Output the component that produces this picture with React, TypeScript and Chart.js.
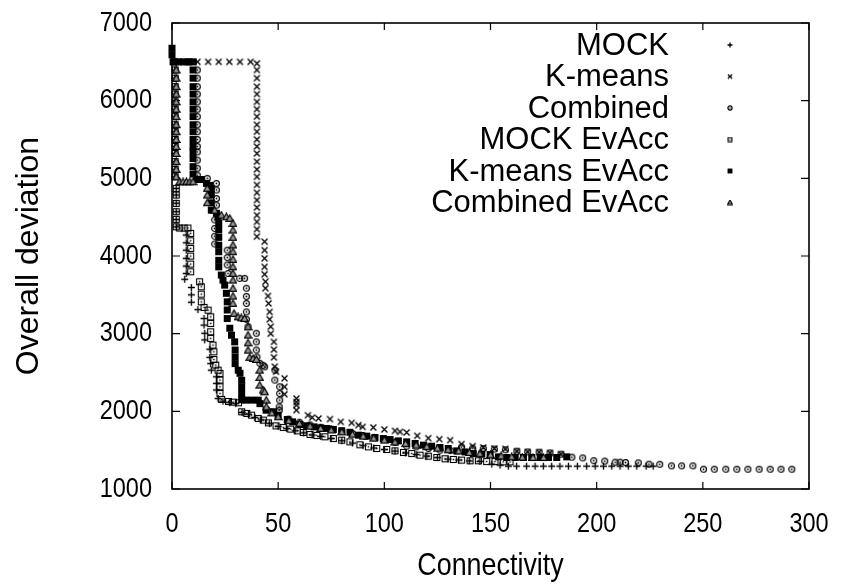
import { useEffect, useRef } from "react";
import { Chart, registerables } from "chart.js";
Chart.register(...registerables);

const seriesNames = ["MOCK", "K-means", "Combined", "MOCK EvAcc", "K-means EvAcc", "Combined EvAcc"];
const xTicks = [0, 50, 100, 150, 200, 250, 300];
const yTicks = [1000, 2000, 3000, 4000, 5000, 6000, 7000];
const xTitle = "Connectivity";
const yTitle = "Overall deviation";

const mockPts: [number, number][] = [
  [1.3, 6395], [1.3, 6290], [1.3, 6180], [1.3, 6085], [1.3, 5985], [1.3, 5890], [1.3, 5795], [1.3, 5690], [1.3, 5600], [1.3, 5500],
  [1.3, 5410], [1.3, 5320], [1.3, 5215], [1.3, 5115], [1.3, 5020], [2, 4870], [2, 4785], [2, 4680], [2, 4570], [2, 4470], [2, 4375],
  [6.7, 4270], [6.7, 4170], [6.7, 4075], [6.7, 3970], [6.7, 3870], [6.7, 3775], [6, 3700], [9.1, 3595], [9.1, 3500], [9.1, 3405],
  [12.2, 3310], [15.1, 3195], [15.1, 3110], [15.4, 3005], [15.4, 2920], [17.8, 2800], [17.8, 2695], [18.2, 2615], [18.5, 2530],
  [20.9, 2445], [20.9, 2360], [20.9, 2275], [21.7, 2165], [24, 2130], [27, 2112], [30, 2100], [33, 1985], [36, 1962], [39, 1922],
  [42, 1890], [46, 1842], [50, 1805], [54, 1778], [58, 1750], [62, 1722], [66, 1695], [70, 1677], [75, 1650], [80, 1622], [85, 1592],
  [90, 1558], [95, 1528], [100, 1508], [105, 1488], [110, 1464], [115, 1444], [120, 1424], [125, 1404], [130, 1385], [135, 1374],
  [140, 1362], [145, 1355], [150.6, 1320], [154.5, 1307], [158.4, 1294], [162.3, 1294], [167, 1294], [171, 1294], [174.9, 1294],
  [178.8, 1294], [182.7, 1294], [186.7, 1294], [190.9, 1294], [195.3, 1294], [199.3, 1294], [203.2, 1294], [207.1, 1294],
  [211, 1294], [214.9, 1294], [218.9, 1294], [223.3, 1294], [226.6, 1294],
];

const kmeansPts: [number, number][] = [
  [3, 6500], [7, 6500], [12, 6500], [17, 6500], [22, 6500], [27, 6500], [32, 6500], [37, 6500],
  [40, 6480], [40, 6395], [40, 6290], [40, 6180], [40, 6085], [40, 5985], [40, 5890], [40, 5795], [40, 5690], [40, 5600],
  [40, 5500], [40, 5410], [40, 5320], [40, 5215], [40, 5115], [40, 5020], [40, 4915], [40, 4815], [40, 4720], [40, 4625],
  [40, 4525], [40, 4440], [40, 4345], [40, 4250], [43.6, 4185], [43.6, 4075], [43.6, 3970], [43.6, 3860], [43.6, 3765],
  [44, 3670], [44, 3585], [45.2, 3485], [45.5, 3390], [46, 3280], [46, 3185], [46.5, 3090], [46.5, 3000], [48, 2895],
  [48, 2795], [48, 2695], [48.4, 2575], [49, 2510], [53, 2425], [53, 2315], [53, 2220], [58.6, 2165], [58.6, 2120],
  [58.6, 2080], [58.6, 2015], [64, 1950], [66, 1920], [69, 1908], [74.4, 1900], [79.5, 1865], [84.6, 1852], [87.8, 1822],
  [89.8, 1800], [94.8, 1793], [100, 1767], [105, 1749], [107.4, 1736], [110.5, 1728], [115.5, 1685], [120.7, 1655],
  [125.9, 1642], [131, 1629], [136.4, 1578], [141.6, 1552], [146.6, 1535], [151.8, 1522], [157, 1517], [162.4, 1487],
  [167.5, 1478], [172.9, 1474], [178, 1465], [183.2, 1449],
];

const combinedPts: [number, number][] = [
  [7.5, 6500], [11.9, 6395], [11.9, 6290], [11.9, 6180], [11.9, 6085], [11.9, 5985], [11.9, 5890], [11.9, 5795], [11.9, 5690],
  [11.9, 5600], [11.9, 5500], [11.9, 5410], [11.9, 5340], [11.9, 5235], [11.9, 5130], [11.9, 5040], [16.6, 5000], [20.9, 4935],
  [20.9, 4850], [20.9, 4740], [20.9, 4655], [20.1, 4465], [20.1, 4355], [20.1, 4255], [20.1, 4155], [26, 4075], [26, 3980],
  [26, 3885], [26.4, 3775], [31.9, 3712], [34.2, 3712], [35, 3585], [35, 3480], [35, 3390], [35, 3280], [35, 3185], [35.8, 3090],
  [39.7, 3005], [39.7, 2895], [39.7, 2790], [40, 2700], [41.4, 2617], [42.9, 2592], [43.6, 2573], [48.5, 2530], [48.4, 2402],
  [50.7, 2316], [50.7, 2230], [50.7, 2144], [50.5, 2058], [50.5, 2015], [55, 1900], [60, 1860], [65, 1825], [70, 1795],
  [75, 1770], [80, 1745], [85, 1715], [90, 1690], [95, 1665], [100, 1640], [105, 1600], [110.5, 1552], [115, 1543],
  [120.7, 1522], [126.2, 1500], [131, 1495], [136.4, 1540], [141.6, 1525], [146.6, 1520], [151.8, 1515], [157, 1505],
  [162.4, 1487], [167.5, 1478], [172.9, 1474], [178, 1465], [183.2, 1449], [188.3, 1410], [193.4, 1400], [198.6, 1365],
  [203.8, 1359], [208.7, 1346], [211, 1346], [213.6, 1342], [219.6, 1337], [224.6, 1320], [229.7, 1318], [235.2, 1298],
  [240, 1298], [245.3, 1298], [250.3, 1255], [255.4, 1255], [260.8, 1255], [266, 1255], [271.2, 1255], [276.5, 1255],
  [281.7, 1255], [286.8, 1255], [291.9, 1255],
];

const mockEvPts: [number, number][] = [
  [1.5, 6500], [1.5, 6395], [1.5, 6290], [1.5, 6180], [1.5, 6085], [1.5, 5985], [1.5, 5890], [1.5, 5795], [1.5, 5690],
  [1.5, 5600], [1.5, 5500], [1.5, 5410], [1.5, 5320], [1.5, 5215], [1.5, 5115], [1.5, 5020], [2, 4871], [2, 4785], [2, 4677],
  [2, 4570], [2, 4472], [2, 4376], [3.6, 4360], [5.7, 4360], [7.5, 4360], [8.8, 4291], [8.8, 4196], [8.8, 4098], [8.8, 3999],
  [8.8, 3896], [8.8, 3797], [13, 3668], [13.8, 3604], [13.8, 3509], [13.8, 3410], [15.1, 3338], [17, 3303], [18.2, 3217],
  [18.2, 3132], [18.2, 3024], [18.2, 2939], [19.3, 2853], [19.7, 2767], [19.7, 2668], [20.6, 2595], [21.7, 2530], [22.6, 2488],
  [22.6, 2402], [22.6, 2316], [22.6, 2230], [23.4, 2153], [26.6, 2127], [28.9, 2118], [31.3, 2110], [32.8, 1994], [35.2, 1973],
  [37.5, 1951], [40.6, 1908], [43, 1887], [45.4, 1852], [49, 1813], [52.4, 1793], [55.9, 1771], [59, 1749], [61.8, 1728],
  [65, 1702], [68.2, 1690], [72, 1672], [76, 1650], [79.9, 1629], [83.8, 1607], [88.5, 1569], [92.5, 1543], [96.4, 1522],
  [101.1, 1509], [105, 1491], [109, 1470], [112.9, 1457], [116.8, 1436], [120.7, 1423], [124.7, 1406], [128.6, 1389],
  [132.5, 1380], [136.4, 1372], [140.4, 1363], [144.3, 1363], [148.2, 1354], [152.1, 1354], [156, 1350], [159.2, 1350],
];

const kmeansEvPts: [number, number][] = [
  [0, 6675], [0, 6590], [0.5, 6500], [3, 6500], [5.5, 6500], [8, 6500], [10, 6500], [9.9, 6395], [9.9, 6290], [9.9, 6180],
  [9.9, 6085], [9.9, 5985], [9.9, 5890], [9.9, 5795], [9.9, 5690], [9.9, 5600], [9.9, 5500], [9.9, 5410], [9.9, 5340],
  [9.9, 5255], [9.9, 5150], [9.9, 5055], [11.5, 4985], [13.8, 4985], [16.2, 4935], [17.8, 4910], [18.5, 4870], [18.5, 4785],
  [18.5, 4685], [18.5, 4590], [20.9, 4550], [21.7, 4505], [22, 4420], [22, 4335], [22, 4240], [22, 4140], [22, 4055],
  [22, 3945], [22, 3860], [23.2, 3755], [24, 3690], [24.8, 3625], [25.6, 3520], [26, 3410], [26, 3305], [26, 3195],
  [27.2, 3070], [28, 2980], [29.5, 2895], [29.7, 2790], [29.7, 2700], [29.7, 2615], [31.2, 2530], [32, 2490], [32.8, 2400],
  [32.8, 2315], [32.8, 2230], [32.8, 2150], [34.5, 2145], [37.5, 2145], [40.6, 2145], [41.4, 2100], [44.3, 2015], [47.7, 1995],
  [50, 1950], [54.3, 1895], [56.8, 1865], [60.3, 1830], [63.4, 1815], [66.9, 1800], [70, 1787], [72.9, 1780], [76, 1767],
  [79.9, 1750], [83.8, 1730], [87.8, 1693], [91.7, 1680], [95.6, 1663], [99.5, 1650], [102.7, 1637], [106.6, 1620],
  [110.5, 1607], [114.5, 1586], [118.4, 1565], [122.3, 1552], [126.2, 1535], [130.1, 1522], [134.1, 1491], [138, 1478],
  [141.9, 1457], [145.9, 1449], [149.8, 1444], [153.7, 1414], [157.6, 1406], [161.6, 1406], [165.5, 1406], [169.4, 1406],
  [173.4, 1406], [177.3, 1406], [181.2, 1406], [185.9, 1414],
];

const combinedEvPts: [number, number][] = [
  [2, 6395], [2, 6290], [2, 6180], [2, 6085], [2, 5985], [2, 5890], [2, 5795], [2, 5690], [2, 5600], [2, 5500], [2, 5410],
  [2, 5320], [2, 5215], [2, 5115], [2, 5020], [3.6, 4956], [5.2, 4956], [6.8, 4956], [8.4, 4956], [9.9, 4956], [16.6, 4871],
  [16.6, 4785], [16.6, 4686], [20.1, 4590], [23.2, 4527], [25.6, 4505], [27.2, 4484], [28.7, 4420], [28.7, 4334], [28.7, 4240],
  [28.7, 4141], [28.7, 4055], [28.7, 3956], [28.7, 3861], [28.7, 3776], [28.7, 3690], [28.7, 3583], [28.7, 3484], [28.7, 3390],
  [29.2, 3261], [31.1, 3217], [32.6, 3204], [34.2, 3196], [35.8, 3088], [35.8, 2982], [35.8, 2882], [35.8, 2788], [36.6, 2695],
  [38.2, 2681], [39.7, 2668], [41.3, 2530], [41.3, 2437], [41.3, 2337], [42.9, 2273], [43.6, 2251], [44.4, 2144], [44.4, 2058],
  [47, 1980], [50, 1930], [55, 1880], [60, 1845], [65, 1810], [70, 1780], [75, 1760], [80, 1735], [85, 1705], [90, 1680],
  [95, 1655], [100, 1630], [105, 1605], [110, 1585], [115, 1565], [120, 1545], [125, 1525], [130, 1505], [135, 1490],
  [140, 1470], [145, 1455], [150, 1440], [155, 1425], [160, 1415], [165, 1410], [170, 1405], [175, 1405],
];

const seriesPoints = [mockPts, kmeansPts, combinedPts, mockEvPts, kmeansEvPts, combinedEvPts];
const markerKinds = ["plus", "cross", "circleDot", "squareDot", "filledSquare", "triangle"];

const FONT = '"Liberation Sans", Arial, Helvetica, sans-serif';
const CONDENSE = 0.84;

function makeMarker(kind: string, scale: number): HTMLCanvasElement {
  const S = Math.round(9 * scale);
  const c = document.createElement("canvas");
  c.width = S;
  c.height = S;
  const g = c.getContext("2d")!;
  g.strokeStyle = "#000";
  g.fillStyle = "#000";
  g.lineWidth = 1.3;
  const m = S / 2;
  const r = 3.5 * scale;
  g.beginPath();
  if (kind === "plus") {
    g.moveTo(m - r, m); g.lineTo(m + r, m);
    g.moveTo(m, m - r); g.lineTo(m, m + r);
    g.stroke();
  } else if (kind === "cross") {
    const d = r * 0.85;
    g.moveTo(m - d, m - d); g.lineTo(m + d, m + d);
    g.moveTo(m + d, m - d); g.lineTo(m - d, m + d);
    g.stroke();
  } else if (kind === "circleDot") {
    g.lineWidth = 1.2;
    g.arc(m, m, r * 0.85, 0, Math.PI * 2);
    g.stroke();
    g.beginPath();
    g.arc(m, m, 0.9 * scale, 0, Math.PI * 2);
    g.fill();
  } else if (kind === "squareDot") {
    g.lineWidth = 1.1;
    g.strokeRect(m - r + 0.5, m - r + 0.5, 2 * r - 1, 2 * r - 1);
    g.fillRect(m - 0.75 * scale, m - 0.75 * scale, 1.5 * scale, 1.5 * scale);
  } else if (kind === "filledSquare") {
    g.fillRect(m - r, m - r, 2 * r, 2 * r);
  } else if (kind === "triangle") {
    g.lineWidth = 1.2;
    g.moveTo(m, m - r);
    g.lineTo(m + r, m + r * 0.8);
    g.lineTo(m - r, m + r * 0.8);
    g.closePath();
    g.fillStyle = "#999";
    g.fill();
    g.stroke();
  }
  return c;
}

function condensedText(ctx: CanvasRenderingContext2D, text: string, x: number, y: number, align: CanvasTextAlign) {
  ctx.save();
  ctx.translate(x, y);
  ctx.scale(CONDENSE, 1);
  ctx.textAlign = align;
  ctx.textBaseline = "middle";
  ctx.fillText(text, 0, 0);
  ctx.restore();
}

export default function App() {
  const ref = useRef<HTMLCanvasElement | null>(null);
  useEffect(() => {
    if (!ref.current) return;
    const plotMarkers = markerKinds.map((k) => makeMarker(k, 1));
    const legendMarkers = markerKinds.map((k) => makeMarker(k, 0.7));

    const framePlugin = {
      id: "frame",
      beforeDatasetsDraw(chart: any) {
        const { ctx, chartArea } = chart;
        const { left, right, top, bottom } = chartArea;
        const xs = chart.scales.x;
        const ys = chart.scales.y;
        ctx.save();
        ctx.strokeStyle = "#000";
        ctx.lineWidth = 1.6;
        ctx.strokeRect(left, top, right - left, bottom - top);
        ctx.lineWidth = 1.2;
        ctx.beginPath();
        xs.ticks.forEach((t: any) => {
          const px = xs.getPixelForValue(t.value);
          ctx.moveTo(px, bottom); ctx.lineTo(px, bottom - 7);
          ctx.moveTo(px, top); ctx.lineTo(px, top + 7);
        });
        ys.ticks.forEach((t: any) => {
          const py = ys.getPixelForValue(t.value);
          ctx.moveTo(left, py); ctx.lineTo(left + 8, py);
          ctx.moveTo(right, py); ctx.lineTo(right - 8, py);
        });
        ctx.stroke();

        ctx.fillStyle = "#000";
        ctx.font = `28px ${FONT}`;
        xs.ticks.forEach((t: any) => {
          condensedText(ctx, String(t.value), xs.getPixelForValue(t.value), bottom + 35, "center");
        });
        ys.ticks.forEach((t: any) => {
          condensedText(ctx, String(t.value), left - 20, ys.getPixelForValue(t.value), "right");
        });
        ctx.font = `32px ${FONT}`;
        condensedText(ctx, xTitle, (left + right) / 2, 566, "center");
        ctx.restore();
      },
      afterDatasetsDraw(chart: any) {
        const { ctx } = chart;
        ctx.save();
        ctx.font = `31px ${FONT}`;
        ctx.fillStyle = "#000";
        ctx.textAlign = "right";
        ctx.textBaseline = "middle";
        seriesNames.forEach((name, i) => {
          const y = 46 + i * 31.5;
          ctx.fillText(name, 669, y);
          const mk = legendMarkers[i];
          ctx.drawImage(mk, 730 - mk.width / 2, y - 1 - mk.height / 2);
        });
        ctx.restore();
      },
    };

    const chart = new Chart(ref.current, {
      type: "scatter",
      data: {
        datasets: seriesPoints.map((pts, i) => ({
          label: seriesNames[i],
          data: pts.map(([x, y]) => ({ x, y })),
          pointStyle: plotMarkers[i] as any,
          pointRadius: 4,
          showLine: false,
          clip: false as any,
          order: 6 - i,
        })),
      },
      options: {
        animation: false,
        responsive: false,
        events: [],
        layout: { padding: { left: 0, right: 35, top: 23, bottom: 0 } },
        plugins: { legend: { display: false }, tooltip: { enabled: false } },
        scales: {
          x: {
            type: "linear",
            min: 0,
            max: 300,
            afterBuildTicks: (s: any) => { s.ticks = xTicks.map((v) => ({ value: v })); },
            afterFit: (s: any) => { s.height = 98; s.paddingLeft = 0; s.paddingRight = 0; },
            grid: { display: false, drawTicks: false },
            border: { display: false },
            ticks: { display: false },
            title: { display: false, text: xTitle },
          },
          y: {
            type: "linear",
            min: 1000,
            max: 7000,
            afterBuildTicks: (s: any) => { s.ticks = yTicks.map((v) => ({ value: v })); },
            afterFit: (s: any) => { s.width = 172; s.paddingTop = 0; s.paddingBottom = 0; },
            grid: { display: false, drawTicks: false },
            border: { display: false },
            ticks: { display: false },
            title: { display: true, text: yTitle, color: "#000", font: { family: FONT, size: 32 }, padding: { top: 10, bottom: 0 } },
          },
        },
      },
      plugins: [framePlugin],
    });
    return () => chart.destroy();
  }, []);

  return (
    <div style={{ position: "fixed", left: 0, top: 0, width: 844, height: 587, background: "#fff" }}>
      <canvas ref={ref} width={844} height={587} style={{ display: "block" }} />
    </div>
  );
}
